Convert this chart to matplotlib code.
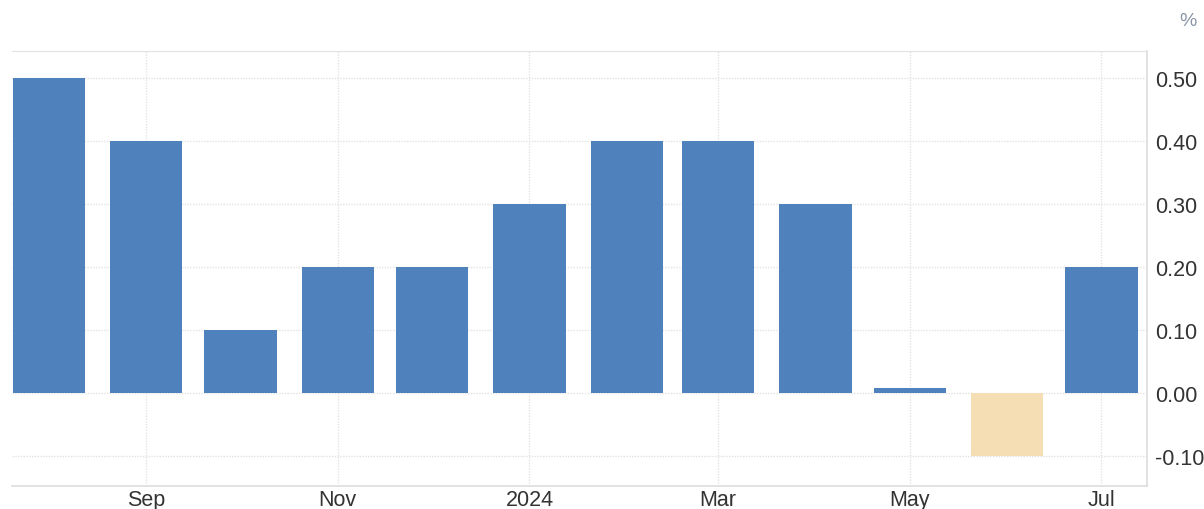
import matplotlib
matplotlib.use("Agg")
import matplotlib.pyplot as plt
import matplotlib.dates as mdates
import numpy as np
import datetime as dt

months = ["2023-08", "2023-09", "2023-10", "2023-11", "2023-12", "2024-01",
          "2024-02", "2024-03", "2024-04", "2024-05", "2024-06", "2024-07"]
values = [0.5, 0.4, 0.1, 0.2, 0.2, 0.3, 0.4, 0.4, 0.3, 0.008, -0.1, 0.2]
ytick_vals = [-0.1, 0.0, 0.1, 0.2, 0.3, 0.4, 0.5]
xtick_dates = ["2023-09", "2023-11", "2024-01", "2024-03", "2024-05", "2024-07"]
xtick_labels = ["Sep", "Nov", "2024", "Mar", "May", "Jul"]

plt.rcParams['font.family'] = ['Liberation Sans', 'DejaVu Sans']

dates = [dt.datetime.strptime(m, "%Y-%m") for m in months]
xt = [dt.datetime.strptime(m, "%Y-%m") for m in xtick_dates]

fig = plt.figure(figsize=(12.04, 5.10), dpi=100)
ax = fig.add_axes([12/1204, 23/510, (1147-12)/1204, (487-52)/510])

colors = ["#4f81bd" if v >= 0 else "#f5deb3" for v in values]
ax.bar(dates, values, width=23, color=colors, edgecolor="none", zorder=3)

ax.set_xlim(dt.datetime(2023, 7, 20, 8), dt.datetime(2024, 7, 15, 12))
ax.set_ylim(-0.1485, 0.5435)

ax.yaxis.tick_right()
ax.set_yticks(ytick_vals)
ax.set_yticklabels([f"{v:.2f}" for v in ytick_vals])
ax.set_xticks(xt)
ax.set_xticklabels(xtick_labels)

ax.tick_params(axis='both', length=0, labelsize=15.5, labelcolor="#333333")
ax.tick_params(axis='y', pad=6)
ax.tick_params(axis='x', pad=2)
for lbl in ax.get_yticklabels():
    lbl.set_horizontalalignment('left')

ax.grid(True, color="#e3e3e3", linestyle=(0, (1, 1)), linewidth=1, zorder=0)

ax.spines["left"].set_visible(False)
ax.spines["top"].set_color("#e3e3e3")
ax.spines["top"].set_linestyle((0, (1, 1)))
ax.spines["right"].set_color("#dddddd")
ax.spines["bottom"].set_color("#dddddd")
ax.spines["right"].set_linewidth(1.2)
ax.spines["bottom"].set_linewidth(1.2)

fig.text(1188/1204, 1 - 22/510, "%", ha="center", va="center",
         fontsize=14, color="#8a96a6")

fig.savefig("out.png", dpi=100)
